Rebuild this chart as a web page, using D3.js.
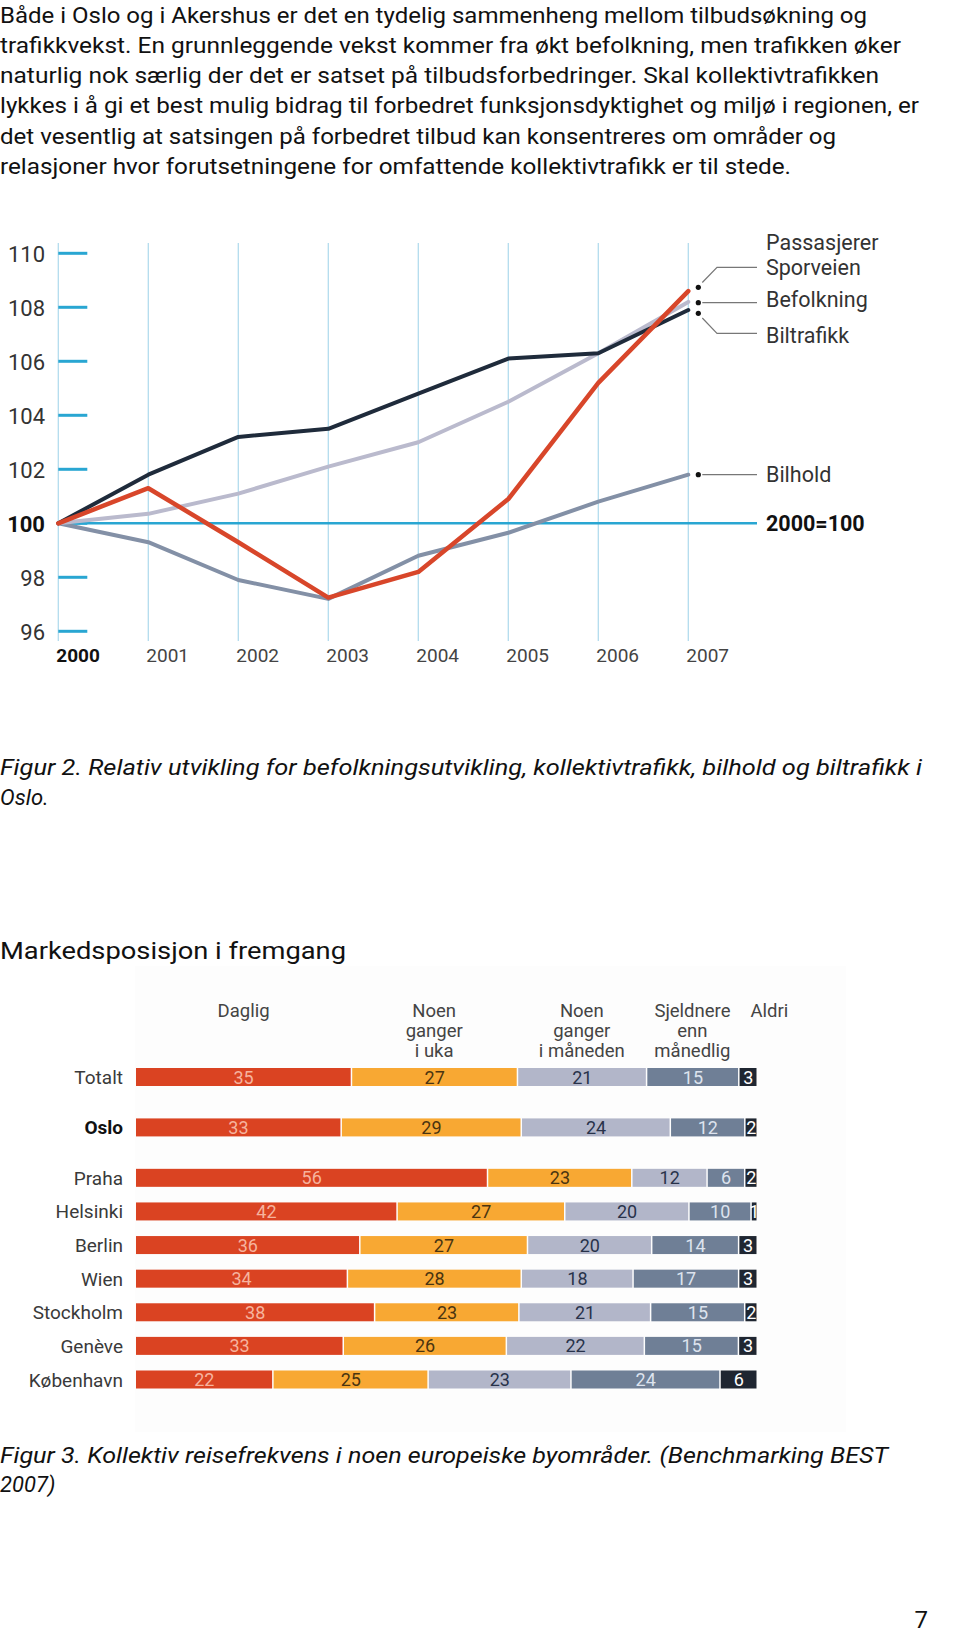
<!DOCTYPE html>
<html><head><meta charset="utf-8">
<script src="https://cdn.jsdelivr.net/npm/d3@7"></script>
<style>
body{margin:0;background:#fff}
svg{display:block}
text{font-family:Roboto,'DejaVu Sans',sans-serif}
</style>
</head><body>
<svg id="c" width="960" height="1636"></svg>
<script>
// ---------- DATA ----------
const paragraph = [
  "Både i Oslo og i Akershus er det en tydelig sammenheng mellom tilbudsøkning og",
  "trafikkvekst. En grunnleggende vekst kommer fra økt befolkning, men trafikken øker",
  "naturlig nok særlig der det er satset på tilbudsforbedringer. Skal kollektivtrafikken",
  "lykkes i å gi et best mulig bidrag til forbedret funksjonsdyktighet og miljø i regionen, er",
  "det vesentlig at satsingen på forbedret tilbud kan konsentreres om områder og",
  "relasjoner hvor forutsetningene for omfattende kollektivtrafikk er til stede."
];
const years = [2000, 2001, 2002, 2003, 2004, 2005, 2006, 2007];
const yTicks = [96, 98, 100, 102, 104, 106, 108, 110];
const passasjerer = [100, 101.3, 99.3, 97.25, 98.2, 100.9, 105.2, 108.6];
const befolkning  = [100, 100.35, 101.1, 102.1, 103.0, 104.5, 106.3, 108.2];
const biltrafikk  = [100, 101.8, 103.2, 103.5, 104.8, 106.1, 106.3, 107.9];
const bilhold     = [100, 99.3, 97.9, 97.2, 98.8, 99.65, 100.8, 101.8];
const caption2 = ["Figur 2.  Relativ utvikling for befolkningsutvikling, kollektivtrafikk, bilhold og biltrafikk i", "Oslo."];

const barTitle = "Markedsposisjon i fremgang";
const cities = ["Totalt", "Oslo", "Praha", "Helsinki", "Berlin", "Wien", "Stockholm", "Genève", "København"];
const daglig    = [35, 33, 56, 42, 36, 34, 38, 33, 22];
const ukentlig  = [27, 29, 23, 27, 27, 28, 23, 26, 25];
const maanedlig = [21, 24, 12, 20, 20, 18, 21, 22, 23];
const sjeldnere = [15, 12, 6, 10, 14, 17, 15, 15, 24];
const aldri     = [3, 2, 2, 1, 3, 3, 2, 3, 6];
const freqHeaders = [["Daglig"], ["Noen", "ganger", "i uka"], ["Noen", "ganger", "i måneden"], ["Sjeldnere", "enn", "månedlig"], ["Aldri"]];
const caption3 = ["Figur 3. Kollektiv reisefrekvens i noen europeiske byområder. (Benchmarking BEST", "2007)"];
const pageNo = "7";

// ---------- DRAW ----------
const svg = d3.select("#c");

// paragraph
const paraW = [867, 901, 879, 919, 836, 791];
svg.append("g").selectAll("text").data(paragraph).join("text")
  .attr("x", 0).attr("y", (d, i) => 22.5 + i * 30.3)
  .attr("font-size", 21.5).attr("fill", "#111")
  .attr("textLength", (d, i) => paraW[i]).attr("lengthAdjust", "spacingAndGlyphs")
  .text(d => d);

// ---- line chart ----
const x = d3.scaleLinear().domain([2000, 2007]).range([58.3, 688.3]);
const y = d3.scaleLinear().domain([96, 110]).range([631.3, 253.3]);
const lc = svg.append("g");
const blue = "#29a6d2";

lc.selectAll("line.grid").data(years).join("line")
  .attr("x1", d => x(d)).attr("x2", d => x(d))
  .attr("y1", 243).attr("y2", 641)
  .attr("stroke", "#b3dcee").attr("stroke-width", 1.3);

lc.selectAll("line.tick").data(yTicks).join("line")
  .attr("x1", x(2000)).attr("x2", x(2000) + 29)
  .attr("y1", d => y(d)).attr("y2", d => y(d))
  .attr("stroke", blue).attr("stroke-width", 3);

lc.selectAll("text.ylab").data(yTicks).join("text")
  .attr("x", 45).attr("y", d => y(d) + 8.3)
  .attr("text-anchor", "end").attr("font-size", 22)
  .attr("font-weight", d => d === 100 ? 700 : 400)
  .attr("fill", d => d === 100 ? "#111" : "#333")
  .text(d => d);

lc.append("line")
  .attr("x1", x(2000)).attr("x2", 757)
  .attr("y1", y(100)).attr("y2", y(100))
  .attr("stroke", blue).attr("stroke-width", 2.6);

lc.selectAll("text.xlab").data(years).join("text")
  .attr("x", d => x(d) - 2).attr("y", 662)
  .attr("font-size", 19)
  .attr("font-weight", d => d === 2000 ? 700 : 400)
  .attr("fill", d => d === 2000 ? "#111" : "#444")
  .text(d => d);

const series = [
  {name: "Bilhold", vals: bilhold, color: "#8390a6", w: 4},
  {name: "Befolkning", vals: befolkning, color: "#babacd", w: 4},
  {name: "Biltrafikk", vals: biltrafikk, color: "#1f2b3b", w: 4},
  {name: "Passasjerer", vals: passasjerer, color: "#d8462a", w: 4.5}
];
const line = d3.line().x((d, i) => x(years[i])).y(d => y(d));
lc.selectAll("path.s").data(series).join("path")
  .attr("d", d => line(d.vals))
  .attr("fill", "none").attr("stroke", d => d.color).attr("stroke-width", d => d.w)
  .attr("stroke-linejoin", "round").attr("stroke-linecap", "round");

// legend leaders
const lx = x(2007) + 10;
const leaders = [
  {dy: 287.3, pts: [[lx + 4, 282.5], [717, 267.3], [757, 267.3]]},
  {dy: 302.7, pts: [[lx + 4, 302.7], [757, 302.7]]},
  {dy: 313.3, pts: [[lx + 4, 318], [717, 333.3], [757, 333.3]]},
  {dy: y(bilhold[7]), pts: [[lx + 4, y(bilhold[7])], [757, y(bilhold[7])]]}
];
lc.selectAll("circle.ld").data(leaders).join("circle")
  .attr("cx", lx).attr("cy", d => d.dy).attr("r", 2.6).attr("fill", "#111");
lc.selectAll("path.ll").data(leaders).join("path")
  .attr("d", d => d3.line()(d.pts))
  .attr("fill", "none").attr("stroke", "#777").attr("stroke-width", 1.2);

const legendTexts = [
  {t: "Passasjerer", yy: 249.5}, {t: "Sporveien", yy: 274.5},
  {t: "Befolkning", yy: 306.5}, {t: "Biltrafikk", yy: 342.5},
  {t: "Bilhold", yy: 481.5}, {t: "2000=100", yy: 530.5, b: true}
];
lc.selectAll("text.lg").data(legendTexts).join("text")
  .attr("x", 766).attr("y", d => d.yy)
  .attr("font-size", 21.5)
  .attr("font-weight", d => d.b ? 700 : 400)
  .attr("fill", d => d.b ? "#111" : "#333")
  .text(d => d.t);

// caption 2
svg.append("g").selectAll("text").data(caption2).join("text")
  .attr("x", 0).attr("y", (d, i) => 775 + i * 29.5)
  .attr("font-size", 22).attr("font-style", "italic").attr("fill", "#111")
  .attr("textLength", (d, i) => i === 0 ? 922 : null).attr("lengthAdjust", "spacingAndGlyphs")
  .text(d => d);

// ---- bar chart ----
svg.append("text").attr("x", 0).attr("y", 959)
  .attr("font-size", 23).attr("fill", "#111")
  .attr("textLength", 346).attr("lengthAdjust", "spacingAndGlyphs")
  .text(barTitle);

svg.append("rect").attr("x", 135).attr("y", 966).attr("width", 711).attr("height", 466)
  .attr("fill", "#fdfdfd");

const keys = ["daglig", "ukentlig", "maanedlig", "sjeldnere", "aldri"];
const table = cities.map((c, i) => ({city: c, daglig: daglig[i], ukentlig: ukentlig[i], maanedlig: maanedlig[i], sjeldnere: sjeldnere[i], aldri: aldri[i]}));
const stacked = d3.stack().keys(keys).offset(d3.stackOffsetExpand)(table);
const xb = d3.scaleLinear().domain([0, 1]).range([136, 757]);
// slots: Totalt, gap, Oslo, gap, cities
const slotOf = c => c === "Totalt" ? 0 : c === "Oslo" ? 1.5 : 3 + (cities.indexOf(c) - 2);
const yb = d3.scaleLinear().domain([0, 9]).range([1077, 1379.5]);
const barH = 18;
const fills = ["#da4322", "#f8a833", "#b2b6c9", "#6f7f96", "#1f2631"];
const labCol = ["#f6b39e", "#4a3410", "#28324a", "#dde3ee", "#ffffff"];

const bc = svg.append("g");
stacked.forEach((layer, k) => {
  const g = bc.append("g");
  g.selectAll("rect").data(layer).join("rect")
    .attr("x", d => xb(d[0]) + (k ? 1 : 0))
    .attr("width", d => Math.max(0.8, xb(d[1]) - xb(d[0]) - (k ? 1.5 : 0.5)))
    .attr("y", d => yb(slotOf(d.data.city)) - barH / 2)
    .attr("height", barH)
    .attr("fill", fills[k]);
  g.selectAll("text").data(layer).join("text")
    .attr("x", d => (xb(d[0]) + xb(d[1])) / 2 + (k ? 0.5 : 0))
    .attr("y", d => yb(slotOf(d.data.city)) + 6.5)
    .attr("text-anchor", "middle").attr("font-size", 18)
    .attr("fill", labCol[k])
    .text(d => d.data[keys[k]]);
});

bc.selectAll("text.row").data(cities).join("text")
  .attr("x", 123).attr("y", d => yb(slotOf(d)) + 7)
  .attr("text-anchor", "end").attr("font-size", 19)
  .attr("font-weight", d => d === "Oslo" ? 700 : 400)
  .attr("fill", d => d === "Oslo" ? "#111" : "#3a3a3a")
  .text(d => d);

// headers centered on Totalt segments
const tot = stacked.map(l => l[0]);
freqHeaders.forEach((lines, k) => {
  const last = k === keys.length - 1;
  const cx = last ? xb(tot[k][0]) + 12 : (xb(tot[k][0]) + xb(tot[k][1])) / 2;
  bc.append("g").selectAll("text").data(lines).join("text")
    .attr("x", cx).attr("y", (d, i) => 1016.5 + i * 20.2)
    .attr("text-anchor", last ? "start" : "middle")
    .attr("font-size", 18.5).attr("fill", "#444")
    .text(d => d);
});

// caption 3
svg.append("g").selectAll("text").data(caption3).join("text")
  .attr("x", 0).attr("y", (d, i) => 1463 + i * 29)
  .attr("font-size", 22).attr("font-style", "italic").attr("fill", "#111")
  .attr("textLength", (d, i) => i === 0 ? 888 : null).attr("lengthAdjust", "spacingAndGlyphs")
  .text(d => d);

svg.append("text").attr("x", 928).attr("y", 1628).attr("text-anchor", "end")
  .attr("font-size", 24).attr("fill", "#111").text(pageNo);
</script>
</body></html>
